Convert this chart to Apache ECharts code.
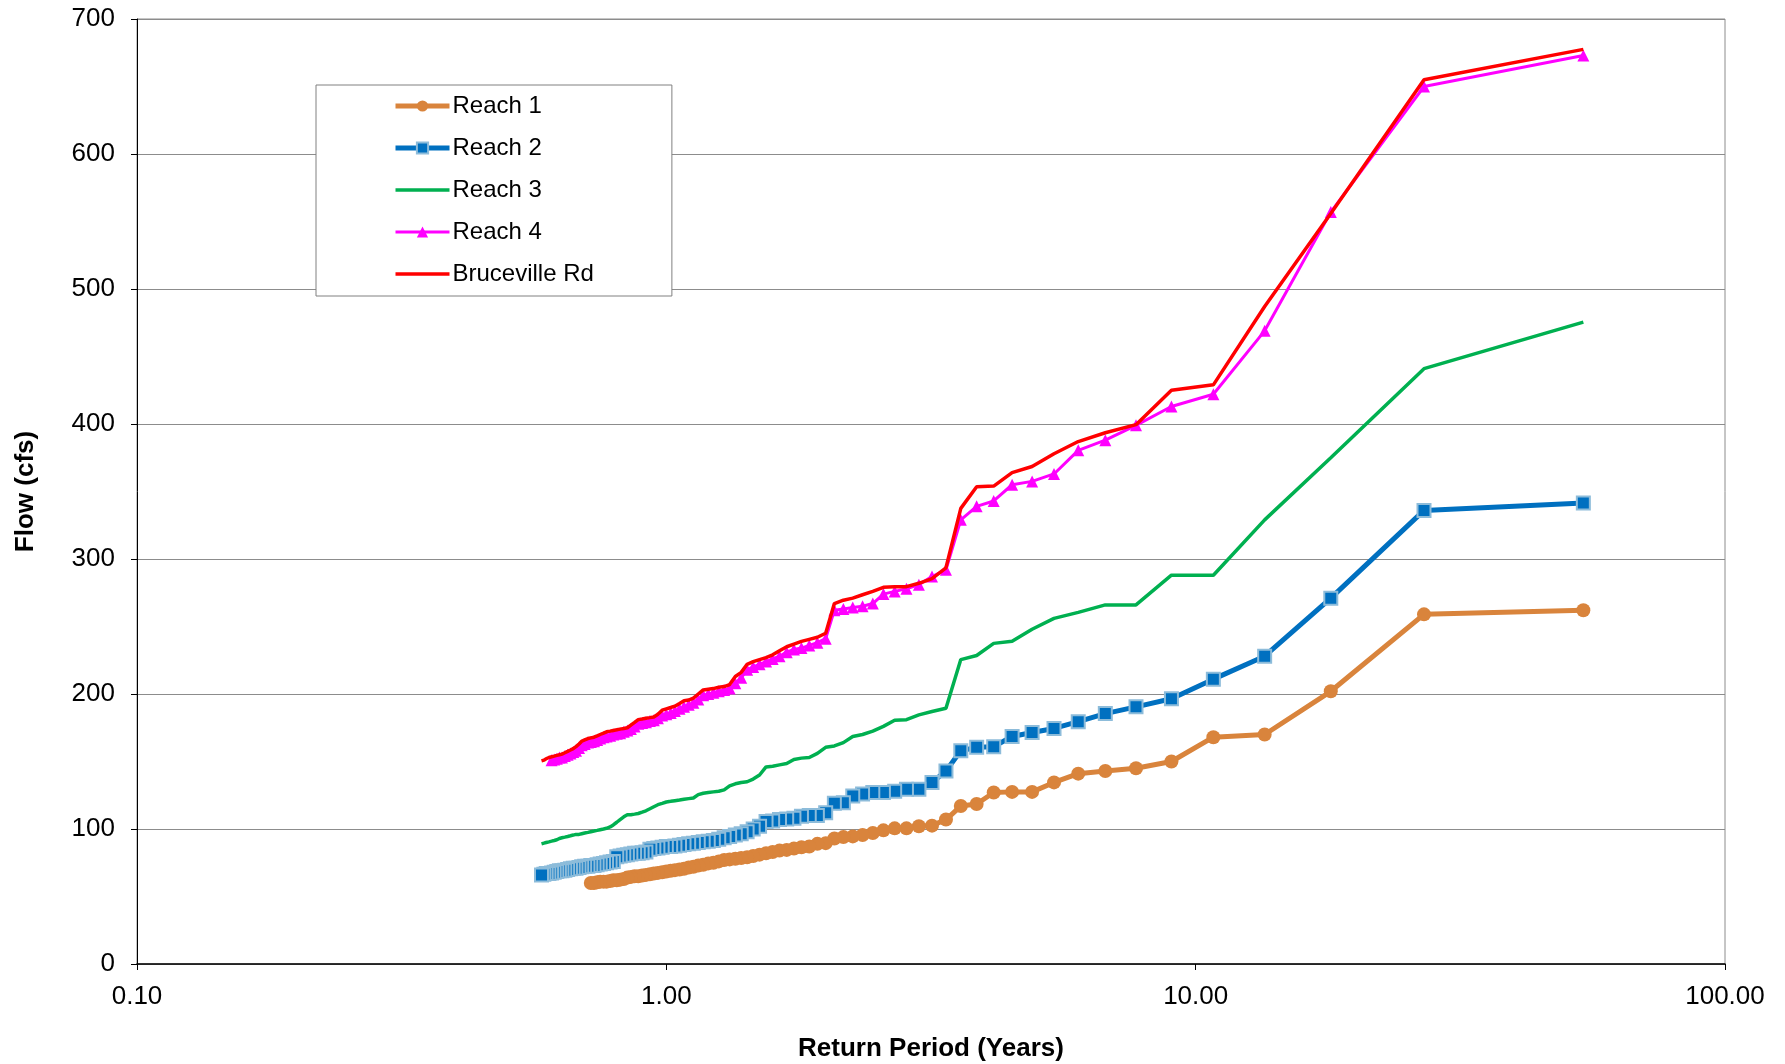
<!DOCTYPE html>
<html>
<head>
<meta charset="utf-8">
<script src="https://cdn.jsdelivr.net/npm/echarts@6/dist/echarts.min.js"></script>
<style>
html,body{margin:0;padding:0;background:#fff;}
#chart{width:1785px;height:1064px;}
</style>
</head>
<body>
<div id="chart"></div>
<script>
// Return periods (years), ranked from largest event downward
var returnPeriod = [54.000, 27.000, 18.000, 13.500, 10.800, 9.000, 7.714, 6.750, 6.000, 5.400,
  4.909, 4.500, 4.154, 3.857, 3.600, 3.375, 3.176, 3.000, 2.842, 2.700,
  2.571, 2.455, 2.348, 2.250, 2.160, 2.077, 2.000, 1.929, 1.862, 1.800,
  1.742, 1.688, 1.636, 1.588, 1.543, 1.500, 1.459, 1.421, 1.385, 1.350,
  1.317, 1.286, 1.256, 1.227, 1.200, 1.174, 1.149, 1.125, 1.102, 1.080,
  1.059, 1.038, 1.019, 1.000, 0.982, 0.964, 0.947, 0.931, 0.915, 0.900,
  0.885, 0.871, 0.857, 0.844, 0.831, 0.818, 0.806, 0.794, 0.783, 0.771,
  0.761, 0.750, 0.740, 0.730, 0.720, 0.711, 0.701, 0.692, 0.684, 0.675,
  0.667, 0.659, 0.651, 0.643, 0.635, 0.628, 0.621, 0.614, 0.607, 0.600,
  0.593, 0.587, 0.581];

var reach1 = [262, 259, 202, 170, 168, 150, 145, 143, 141, 134.5,
  127.5, 127.5, 127, 118.5, 117, 107, 102.5, 102, 100.5, 100.5,
  99, 97, 95.5, 94.5, 94, 93, 89.5, 89, 87, 86.5,
  85.5, 84.5, 84, 83, 82, 81, 80, 79, 78.5, 78,
  77.5, 77, 76, 75, 74.5, 73.5, 73, 72, 71.5, 70.5,
  70, 69.5, 69, 68.5, 68, 67.5, 67, 66.5, 66, 65.5,
  65, 65, 64.5, 64, 63, 62.5, 62, 62, 61.5, 61,
  61, 61, 60.5, 60, 60];

var reach2 = [341.5, 336, 271, 228, 211, 196.5, 190.5, 185.5, 179.5, 174.5,
  171.5, 168.5, 161, 160.5, 158, 143, 134.5, 129.5, 129.5, 128,
  127, 127, 126, 124.5, 119.5, 119, 112, 110, 110, 109.5,
  108, 107.5, 107, 106, 105.5, 102, 100, 98, 96.5, 95.5,
  94.5, 93.5, 92.5, 91.5, 91, 90.5, 90, 89.5, 89, 88.5,
  88, 87.5, 87, 87, 86.5, 86, 85.5, 85, 83, 82.5,
  82, 82, 81.5, 81, 80.5, 80, 79.5, 76, 75.5, 75,
  74.5, 74, 73.5, 73, 73, 72.5, 72.5, 72, 71.5, 71,
  71, 70.5, 70, 69.5, 69, 69, 68.5, 68, 67.5, 67,
  67, 66.5, 66];

var reach3 = [475.5, 441, 375, 329, 288, 288, 266, 266, 260.5, 256,
  248, 239, 237.5, 228.5, 225.5, 189.5, 187, 184.5, 181, 180.5,
  176, 172.5, 170, 168.5, 164, 161.5, 160.5, 156, 153, 152.5,
  151.5, 148.5, 147.5, 146.5, 146, 140, 137, 135, 134.5, 133.5,
  132, 129, 128, 127.5, 127, 126.5, 125.5, 123, 122.5, 122,
  121.5, 121, 120.5, 120, 119, 118, 116.5, 115, 113.5, 112.5,
  111.5, 111, 110.5, 110.5, 109, 107, 105, 103, 101.5, 100.5,
  100, 99.5, 99, 98.5, 98, 97.5, 97, 96.5, 96, 96,
  95.5, 95, 94.5, 94, 93.5, 93, 92, 91.5, 91, 90.5,
  90, 89.5, 89];

var reach4 = [673, 650, 557, 469, 422, 413, 399, 388, 380.5, 363,
  357.5, 355, 343, 339, 329, 292, 287, 281, 278, 276,
  274, 267, 265, 264, 263, 262, 241, 238, 236, 234,
  233, 231, 228, 226, 224, 222, 220, 218, 212, 208,
  204, 203, 202, 201, 200, 199, 196, 193.5, 192, 190.5,
  189, 187.5, 186, 185, 184, 182, 180.5, 180, 179, 178.5,
  178, 176, 174, 173, 172, 171, 170.5, 170, 169, 168.5,
  168, 167, 166, 165, 164.5, 164, 163, 162, 160, 158,
  157, 156, 155, 154, 153, 153, 152, 151.5, 151];

var bruceville = [677.5, 655, 556, 487, 429, 425, 399.5, 393.5, 387, 378,
  368.5, 364, 354, 353.5, 337.5, 293.5, 285.5, 282, 279.5, 279.5,
  279, 276, 273.5, 271, 269.5, 267, 245, 242, 240.5, 239,
  237, 235, 232, 229, 227, 225.5, 224, 222, 216, 213,
  207, 205.5, 205, 204, 203.5, 203, 200, 197, 195.5, 195,
  193, 191, 190, 189, 188, 185, 183, 182.5, 182, 181.5,
  181, 179, 177, 175, 174.5, 174, 173.5, 173, 172.5, 172,
  171, 170, 169, 168, 167.5, 167, 166, 165, 163, 161,
  159.5, 158.5, 157.5, 156.5, 155.5, 155, 154.5, 154, 153.5, 153,
  152, 151, 150.5];

var seriesNames = ['Reach 1', 'Reach 2', 'Reach 3', 'Reach 4', 'Bruceville Rd'];
var yTicks = [0, 100, 200, 300, 400, 500, 600, 700];

function pairs(vals) {
  return vals.map(function (v, i) { return [returnPeriod[i], v]; });
}

var FONT = "'Liberation Sans', Arial, sans-serif";
// plain thick line icon for the legend (thin marks at top/bottom fix the box height)
var LINE_ICON = 'path://M0,0L0.01,0L0.01,0.01L0,0.01Z M0,5.2L54,5.2L54,8.8L0,8.8Z M0,13.99L0.01,13.99L0.01,14L0,14Z';

var chart = echarts.init(document.getElementById('chart'), null, {renderer: 'canvas'});

chart.setOption({
  animation: false,
  backgroundColor: '#ffffff',
  grid: {
    left: 137, right: 60, top: 19, bottom: 100,
    containLabel: false,
    outerBoundsMode: 'none',
    show: true, borderColor: '#8c8c8c', borderWidth: 1, backgroundColor: 'transparent'
  },
  legend: {
    orient: 'vertical',
    left: 316, top: 85,
    padding: [7, 78, 8, 77],
    itemGap: 14,
    itemWidth: 54,
    itemHeight: 14,
    backgroundColor: '#ffffff',
    borderColor: '#808080',
    borderWidth: 1,
    lineStyle: {width: 'inherit'},
    textStyle: {fontFamily: FONT, fontSize: 24, color: '#000', lineHeight: 28, padding: [0, 0, 0, -2]},
    data: [
      {name: seriesNames[0]},
      {name: seriesNames[1]},
      {name: seriesNames[2], icon: LINE_ICON, itemStyle: {color: '#00B050'}},
      {name: seriesNames[3]},
      {name: seriesNames[4], icon: LINE_ICON, itemStyle: {color: '#FF0000'}}
    ]
  },
  xAxis: {
    type: 'log',
    logBase: 10,
    min: 0.1,
    max: 100,
    splitNumber: 3,
    name: 'Return Period (Years)',
    nameLocation: 'middle',
    nameGap: 72,
    nameTextStyle: {fontFamily: FONT, fontSize: 26, fontWeight: 'bold', color: '#000'},
    axisLine: {show: true, onZero: false, lineStyle: {color: '#000', width: 1.5}},
    axisTick: {show: true, length: 6, inside: false, lineStyle: {color: '#000'}},
    minorTick: {show: false},
    splitLine: {show: false},
    axisLabel: {
      fontFamily: FONT, fontSize: 26, color: '#000', margin: 20,
      formatter: function (v) { return Number(v).toFixed(2); }
    }
  },
  yAxis: {
    type: 'value',
    min: yTicks[0],
    max: yTicks[yTicks.length - 1],
    interval: 100,
    name: 'Flow (cfs)',
    nameLocation: 'middle',
    nameGap: 98,
    nameRotate: 90,
    nameTextStyle: {fontFamily: FONT, fontSize: 26, fontWeight: 'bold', color: '#000'},
    axisLine: {show: true, lineStyle: {color: '#000', width: 1}},
    axisTick: {show: true, length: 6, inside: false, lineStyle: {color: '#000'}},
    splitLine: {show: true, lineStyle: {color: '#8c8c8c', width: 1.2}},
    axisLabel: {fontFamily: FONT, fontSize: 26, color: '#000', margin: 22}
  },
  series: [
    {
      name: seriesNames[0], type: 'line', data: pairs(reach1),
      symbol: 'circle', symbolSize: 14, showSymbol: true,
      lineStyle: {color: '#D9843C', width: 5},
      itemStyle: {color: '#D9843C', borderColor: '#D9843C', borderWidth: 0},
      z: 2
    },
    {
      name: seriesNames[1], type: 'line', data: pairs(reach2),
      symbol: 'rect', symbolSize: 13, showSymbol: true,
      lineStyle: {color: '#0070C0', width: 5},
      itemStyle: {color: '#0070C0', borderColor: '#8DBCDA', borderWidth: 2},
      z: 3
    },
    {
      name: seriesNames[2], type: 'line', data: pairs(reach3),
      symbol: 'none', showSymbol: false,
      lineStyle: {color: '#00B050', width: 3.5},
      itemStyle: {color: '#00B050'},
      z: 4
    },
    {
      name: seriesNames[3], type: 'line', data: pairs(reach4),
      symbol: 'triangle', symbolSize: 12, showSymbol: true,
      lineStyle: {color: '#FF00FF', width: 3},
      itemStyle: {color: '#FF00FF', borderWidth: 0},
      z: 5
    },
    {
      name: seriesNames[4], type: 'line', data: pairs(bruceville),
      symbol: 'none', showSymbol: false,
      lineStyle: {color: '#FF0000', width: 3.5},
      itemStyle: {color: '#FF0000'},
      z: 6
    }
  ]
});
</script>
</body>
</html>
